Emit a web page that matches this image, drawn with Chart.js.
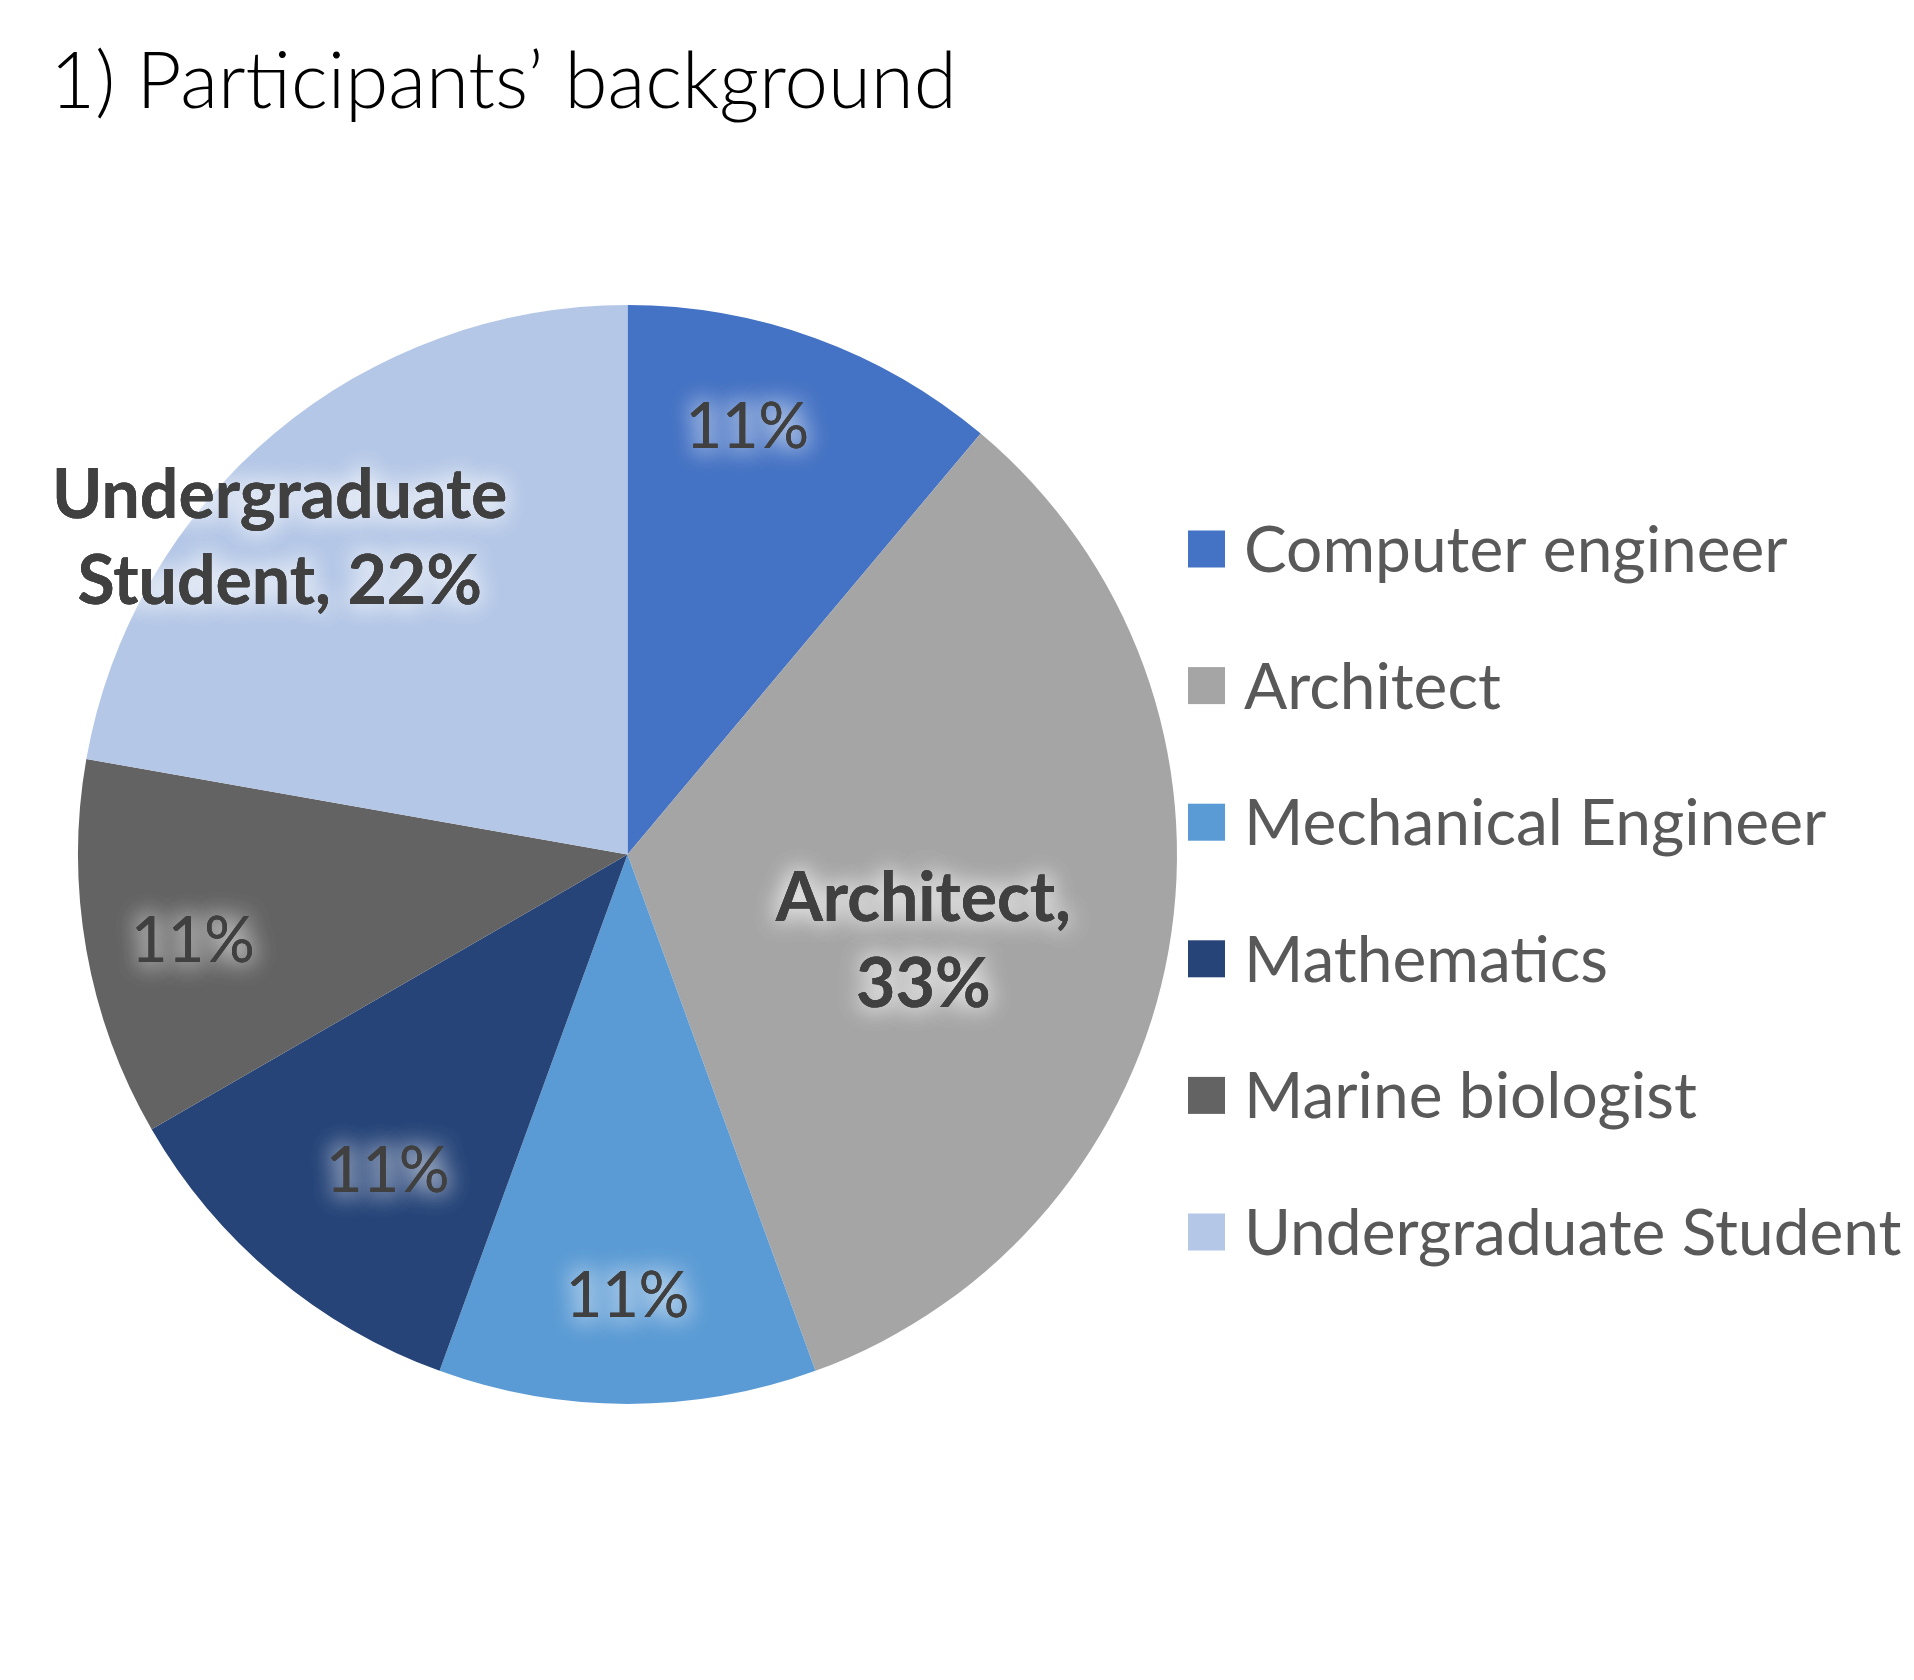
<!DOCTYPE html>
<html>
<head>
<meta charset="utf-8">
<script src="https://cdn.jsdelivr.net/npm/chart.js@4"></script>
<style>
  html, body { margin:0; padding:0; background:#fff; }
  canvas { display:block; }
</style>
</head>
<body>
<canvas id="c" width="1914" height="1680"></canvas>
<script>
// data
const categories = ['Computer engineer','Architect','Mechanical Engineer','Mathematics','Marine biologist','Undergraduate Student'];
const shares = [11, 33, 11, 11, 11, 22];
const colors = ['#4472C4','#A5A5A5','#5B9BD5','#264478','#636363','#B4C7E7'];
// which slices show the category name next to the percentage
const showName = [false, true, false, false, false, true];

const FONT = 'Lato, "Open Sans", sans-serif';

// label placement: fraction of radius and angle nudge (deg) per slice
const labelPlace = [
  { r:.81, da:-4.4 }, { r:.56, da:6 }, { r:.80, da:0 },
  { r:.72, da:-2.7 }, { r:.806, da:-1.1 }, { r:.857, da:-7.6 }
];
const labelLines = {
  1: ['Architect,', '33%'],
  5: ['Undergraduate', 'Student, 22%']
};

const sliceLabels = {
  id:'sliceLabels',
  afterDatasetsDraw(chart){
    const ctx = chart.ctx;
    const arcs = chart.getDatasetMeta(0).data;
    arcs.forEach((arc, i) => {
      const p = labelPlace[i];
      const mid = (arc.startAngle + arc.endAngle)/2 + p.da*Math.PI/180;
      const cx = arc.x + Math.cos(mid)*arc.outerRadius*p.r;
      const cy = arc.y + Math.sin(mid)*arc.outerRadius*p.r;
      const bold = showName[i];
      const fs = bold ? 68 : 63;
      const lines = labelLines[i] || [shares[i] + '%'];
      const capH = fs*0.72, lh = 86;
      ctx.save();
      ctx.font = (bold ? 'bold ' : '') + fs + 'px ' + FONT;
      ctx.textAlign = 'center';
      ctx.textBaseline = 'alphabetic';
      ctx.fillStyle = '#404040';
      lines.forEach((t, k) => {
        const y = cy + capH/2 + (k - (lines.length-1)/2)*lh;
        // soft white glow
        ctx.shadowColor = 'rgba(255,255,255,0.8)';
        ctx.shadowBlur = 24;
        ctx.fillText(t, cx, y);
        ctx.fillText(t, cx, y);
        ctx.shadowBlur = 0;
        ctx.shadowColor = 'transparent';
        ctx.fillText(t, cx, y);
      });
      ctx.restore();
    });
  }
};

const sideLegend = {
  id:'sideLegend',
  afterDraw(chart){
    const ctx = chart.ctx;
    const x0 = 1188, y0 = 549, step = 136.6, box = 37, fs = 64;
    ctx.save();
    ctx.font = fs + 'px ' + FONT;
    ctx.textBaseline = 'alphabetic';
    chart.data.labels.forEach((lab, i) => {
      const cy = y0 + i*step;
      ctx.fillStyle = chart.data.datasets[0].backgroundColor[i];
      ctx.fillRect(x0, cy - box/2, box, box);
      ctx.fillStyle = '#595959';
      ctx.fillText(lab, 1244, cy + fs*0.72/2);
    });
    ctx.restore();
  }
};

function draw(){
  new Chart(document.getElementById('c'), {
    type:'pie',
    data:{
      labels: categories,
      datasets:[{ data: shares, backgroundColor: colors, borderWidth:0, hoverOffset:0, offset:0 }]
    },
    options:{
      responsive:false,
      devicePixelRatio:1,
      animation:false,
      events:[],
      layout:{ padding:{ left:50, right:709, top:0, bottom:276 } },
      plugins:{
        legend:{ display:false },
        tooltip:{ enabled:false },
        title:{
          display:true,
          text:'1) Participants\u2019 background',
          align:'start',
          color:'#000',
          font:{ family:FONT, size:78, weight:'300', lineHeight:1 },
          padding:{ top:44, bottom:183 }
        }
      }
    },
    plugins:[sliceLabels, sideLegend]
  });
}

Promise.all([
  document.fonts.load('300 78px Lato'),
  document.fonts.load('64px Lato'),
  document.fonts.load('bold 68px Lato')
]).then(draw, draw);
</script>
</body>
</html>
